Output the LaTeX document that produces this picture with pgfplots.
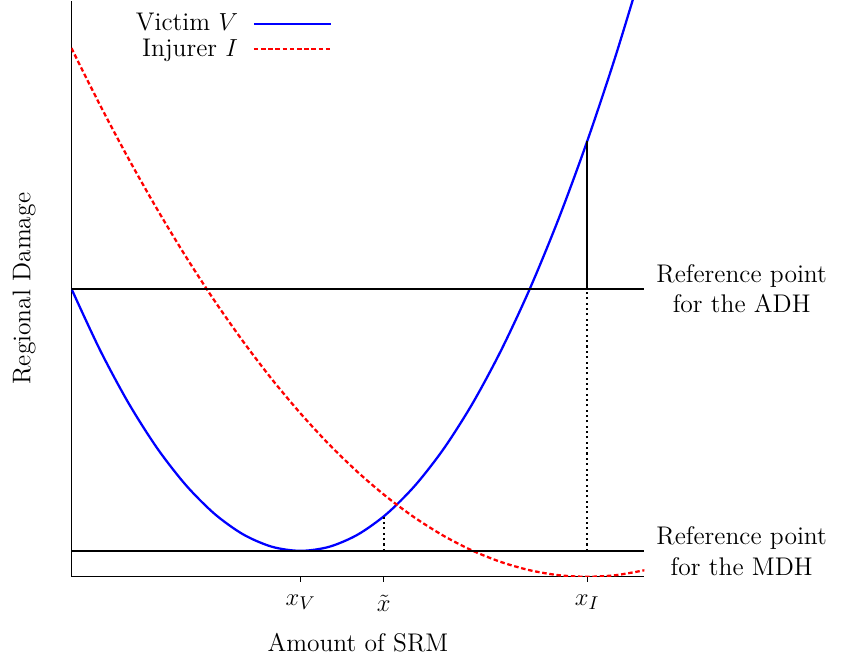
\documentclass[border=0pt]{standalone}
\usepackage{pgfplots}
\pgfplotsset{compat=1.18}

\begin{document}
\fontsize{12.4}{15}\selectfont
\begin{tikzpicture}
\begin{axis}[
  scale only axis,
  width=278.5pt, height=280pt,
  xmin=0, xmax=10, ymin=0, ymax=10,
  clip mode=individual,
  axis x line*=bottom, axis y line*=left,
  axis line style={-, line width=0.6pt},
  xtick={4,5.45,9},
  xticklabels={$x_V$,$\tilde{x}$,$x_I$},
  ytick=\empty,
  tick align=outside, major tick length=2.5pt,
  tick style={black, line width=0.5pt},
  xticklabel style={yshift=-2pt},
  xlabel={Amount of SRM}, ylabel={Regional Damage},
  xlabel style={yshift=-2pt},
  ylabel style={at={(axis description cs:-0.047,0.5)}, anchor=south},
  legend style={at={(0.094,1.0)}, anchor=north west, yshift=-2pt,
                draw=none, fill=none, row sep=-2pt},
  legend cell align=right, legend plot pos=right,
  legend image code/.code={\path (0cm,0cm); \draw[#1] (0.18cm,0cm) -- (1.5cm,0cm);},
]
% victim damage V
\addplot[blue, line width=1.1pt, smooth] coordinates {
 (0,5.000)(0.5,3.934)(1,3.009)(1.5,2.227)(2,1.588)(2.5,1.090)(3,0.734)
 (3.5,0.521)(4,0.450)(4.5,0.521)(5,0.734)(5.5,1.090)(6,1.588)(6.5,2.227)
 (7,3.009)(7.5,3.934)(8,5.000)(8.5,6.209)(9,7.559)(9.5,9.052)(10,10.688)};
\addlegendentry{Victim $V$}
% injurer damage I
\addplot[red, line width=1.1pt, smooth, dash pattern=on 2.2pt off 1.3pt] coordinates {
 (0,9.177)(0.5,8.186)(1,7.251)(1.5,6.373)(2,5.552)(2.5,4.787)(3,4.079)
 (3.5,3.427)(4,2.833)(4.5,2.294)(5,1.813)(5.5,1.388)(6,1.020)(6.5,0.708)
 (7,0.453)(7.5,0.255)(8,0.113)(8.5,0.028)(9,0.000)(9.5,0.028)(10,0.113)};
\addlegendentry{Injurer $I$}
% reference lines
\addplot[black, line width=1.1pt, forget plot] coordinates {(0,5)(10,5)};
\addplot[black, line width=1.1pt, forget plot] coordinates {(0,0.45)(10,0.45)};
\addplot[black, line width=1.1pt, forget plot] coordinates {(9,5)(9,7.559)};
\addplot[black, line width=1.1pt, dash pattern=on 1pt off 1.6pt, forget plot]
  coordinates {(9,0.45)(9,5)};
\addplot[black, line width=1.1pt, dash pattern=on 1pt off 1.6pt, forget plot]
  coordinates {(5.45,0.45)(5.45,1.09)};
\node[anchor=west, align=center, xshift=1.5pt] (adh) at (axis cs:10,5)
  {Reference point\\for the ADH};
\node[anchor=west, align=center, xshift=1.5pt] (mdh) at (axis cs:10,0.45)
  {Reference point\\for the MDH};
\end{axis}
\path ([xshift=4pt]adh.east) -- ([xshift=4pt]mdh.east);
\path ([xshift=-2pt]current bounding box.west);
\end{tikzpicture}
\end{document}
